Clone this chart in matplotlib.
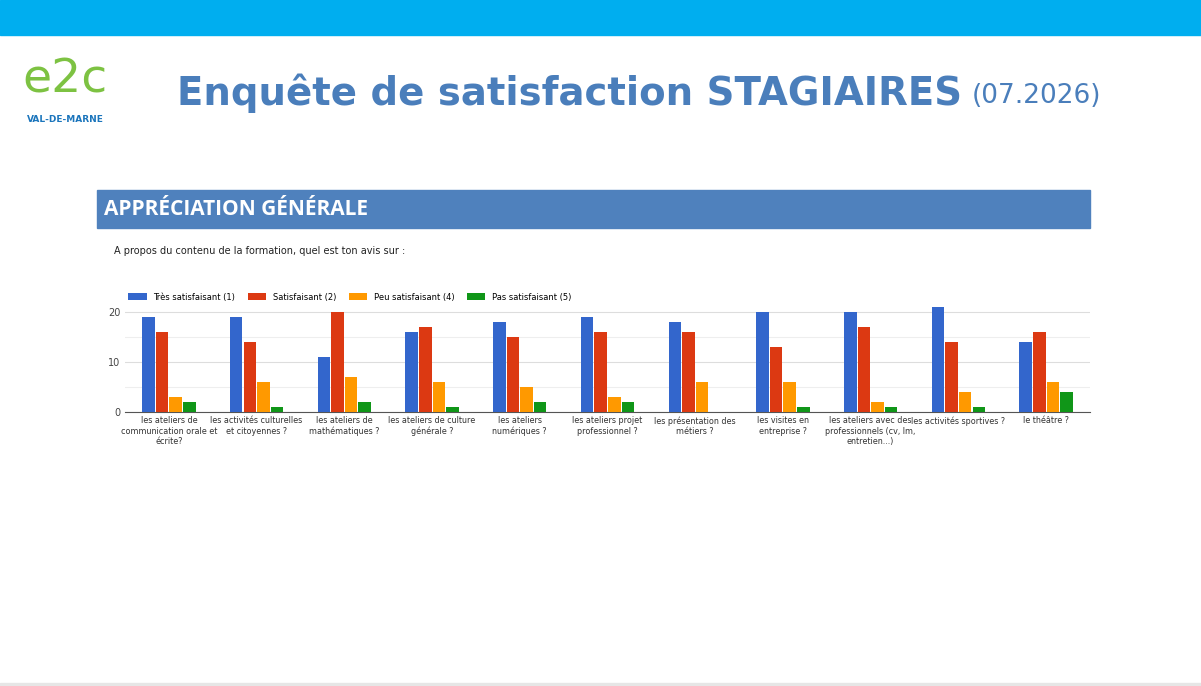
import numpy as np
import matplotlib.pyplot as plt
from matplotlib.patches import Rectangle

categories = [
    "les ateliers de\ncommunication orale et\nécrite?",
    "les activités culturelles\net citoyennes ?",
    "les ateliers de\nmathématiques ?",
    "les ateliers de culture\ngénérale ?",
    "les ateliers\nnumériques ?",
    "les ateliers projet\nprofessionnel ?",
    "les présentation des\nmétiers ?",
    "les visites en\nentreprise ?",
    "les ateliers avec des\nprofessionnels (cv, lm,\nentretien...)",
    "les activités sportives ?",
    "le théâtre ?",
]
series_names = ["Très satisfaisant (1)", "Satisfaisant (2)", "Peu satisfaisant (4)", "Pas satisfaisant (5)"]
tres = [19, 19, 11, 16, 18, 19, 18, 20, 20, 21, 14]
satis = [16, 14, 20, 17, 15, 16, 16, 13, 17, 14, 16]
peu = [3, 6, 7, 6, 5, 3, 6, 6, 2, 4, 6]
pas = [2, 1, 2, 1, 2, 2, 0, 1, 1, 1, 4]
colors = ["#3366cc", "#dc3912", "#ff9900", "#109618"]

W, H = 1201, 686
fig = plt.figure(figsize=(W / 100, H / 100), dpi=100)
fig.patch.set_facecolor("white")

def box(x, y, w, h, color):
    fig.patches.append(Rectangle((x / W, 1 - (y + h) / H), w / W, h / H,
                                 transform=fig.transFigure, color=color, zorder=0))

box(0, 0, W, 35, "#00aeef")
box(0, 683, W, 3, "#e6e6e6")
box(97, 190, 993, 38, "#4f81bd")

# logo (text approximation)
fig.text(65 / W, 1 - 80 / H, "e2c", color="#7dc242", fontsize=34, ha="center", va="center")
fig.text(65 / W, 1 - 120 / H, "VAL-DE-MARNE", color="#1b75bc", fontsize=6.5, weight="bold",
         ha="center", va="center")
fig.text(177 / W, 1 - 93 / H, "Enquête de satisfaction STAGIAIRES", color="#4a7ebb",
         fontsize=27.8, weight="bold", ha="left", va="center")
fig.text(972 / W, 1 - 96 / H, "(07.2026)", color="#4a7ebb", fontsize=19, ha="left", va="center")
fig.text(104 / W, 1 - 209 / H, "APPRÉCIATION GÉNÉRALE", color="white", fontsize=15,
         weight="bold", ha="left", va="center", family="Open Sans")
fig.text(114 / W, 1 - 251 / H, "A propos du contenu de la formation, quel est ton avis sur :",
         color="#222222", fontsize=7, ha="left", va="center")

ax = fig.add_axes([125 / W, (H - 412) / H, 965 / W, 105 / H])
x = np.arange(len(categories))
bw = 0.155
for i, (vals, name) in enumerate(zip([tres, satis, peu, pas], series_names)):
    ax.bar(x + (i - 1.5) * bw, vals, bw * 0.92, color=colors[i], label=name, zorder=3)
ax.set_xlim(-0.5, len(categories) - 0.5)
ax.set_ylim(0, 21)
ax.set_yticks([0, 10, 20])
ax.set_yticks([5, 15], minor=True)
ax.grid(axis="y", which="major", color="#dddddd", lw=0.8, zorder=0)
ax.grid(axis="y", which="minor", color="#eeeeee", lw=0.8, zorder=0)
ax.tick_params(axis="y", which="both", length=0, labelsize=7, labelcolor="#444444")
ax.set_xticks(x)
ax.set_xticklabels(categories, fontsize=5.8, color="#333333")
ax.tick_params(axis="x", length=0, pad=3)
for s in ["top", "right", "left"]:
    ax.spines[s].set_visible(False)
ax.spines["bottom"].set_color("#555555")
ax.legend(loc="lower left", bbox_to_anchor=(0.0, 1.02), ncol=4, frameon=False,
          fontsize=6, handlelength=2.2, handleheight=0.9, borderaxespad=0, columnspacing=1.5)

fig.savefig("out.png", dpi=100)
